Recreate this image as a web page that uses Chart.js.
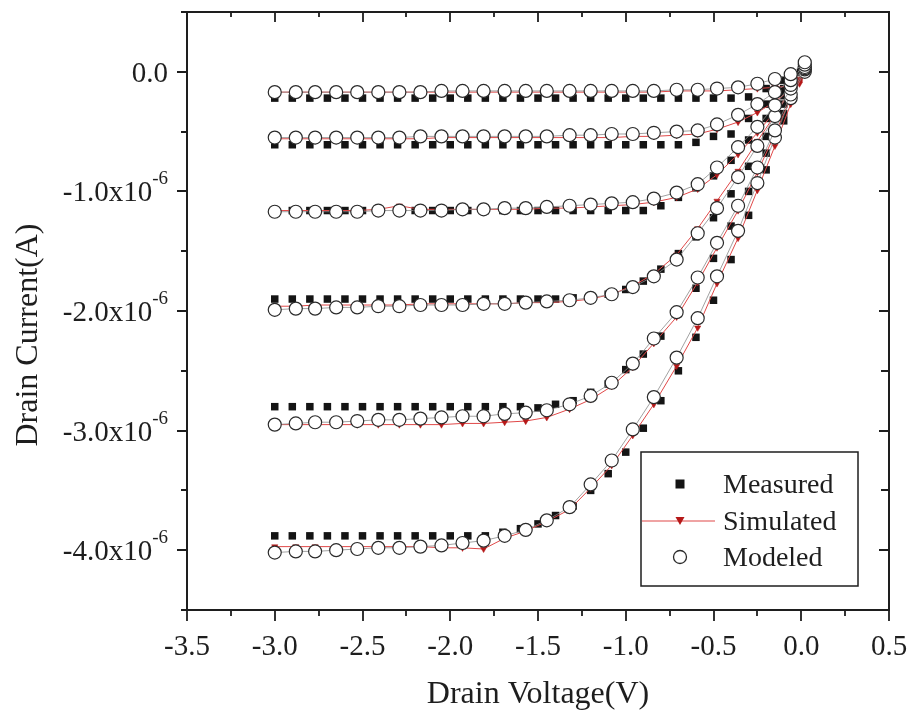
<!DOCTYPE html>
<html>
<head>
<meta charset="utf-8">
<script src="https://cdn.jsdelivr.net/npm/chart.js@4.4.1/dist/chart.umd.min.js"></script>
<style>
html,body{margin:0;padding:0;background:#fff;}
#wrap{width:909px;height:718px;position:relative;}
</style>
</head>
<body>
<div id="wrap"><canvas id="c" width="909" height="718"></canvas></div>
<script>
// ---------- DATA (current in units of 1e-6 A) ----------
const vMeasured = [-3.0,-2.9,-2.8,-2.7,-2.6,-2.5,-2.4,-2.3,-2.2,-2.1,-2.0,-1.9,-1.8,-1.7,-1.6,-1.5,-1.4,-1.3,-1.2,-1.1,-1.0,-0.9,-0.8,-0.7,-0.6,-0.5,-0.4,-0.3,-0.2,-0.1,0.0];
const vModeled  = [-3.00,-2.88,-2.77,-2.65,-2.53,-2.41,-2.29,-2.17,-2.05,-1.93,-1.81,-1.69,-1.57,-1.45,-1.32,-1.20,-1.08,-0.96,-0.84,-0.71,-0.59,-0.48,-0.36,-0.25,-0.15,-0.06,0.02];
const vSimulated = [-3.00,-2.88,-2.77,-2.65,-2.53,-2.41,-2.29,-2.17,-2.05,-1.93,-1.81,-1.69,-1.57,-1.45,-1.32,-1.20,-1.08,-0.96,-0.84,-0.71,-0.59,-0.48,-0.36,-0.25,-0.15,-0.06,-0.01];

const measured1 = [-0.22,-0.22,-0.22,-0.22,-0.22,-0.22,-0.22,-0.22,-0.22,-0.22,-0.22,-0.22,-0.22,-0.22,-0.22,-0.22,-0.22,-0.22,-0.22,-0.22,-0.22,-0.22,-0.22,-0.22,-0.22,-0.22,-0.22,-0.21,-0.14,-0.07,0.0];
const measured2 = [-0.61,-0.61,-0.61,-0.61,-0.61,-0.61,-0.61,-0.61,-0.61,-0.61,-0.61,-0.61,-0.61,-0.61,-0.61,-0.61,-0.61,-0.61,-0.61,-0.61,-0.61,-0.61,-0.61,-0.61,-0.59,-0.54,-0.52,-0.39,-0.27,-0.14,0.0];
const measured3 = [-1.16,-1.16,-1.16,-1.16,-1.16,-1.16,-1.16,-1.16,-1.16,-1.16,-1.16,-1.16,-1.16,-1.16,-1.16,-1.16,-1.16,-1.16,-1.16,-1.16,-1.16,-1.16,-1.12,-1.05,-0.97,-0.87,-0.74,-0.57,-0.39,-0.20,0.0];
const measured4 = [-1.90,-1.90,-1.90,-1.90,-1.90,-1.90,-1.90,-1.90,-1.90,-1.90,-1.90,-1.90,-1.90,-1.90,-1.90,-1.90,-1.90,-1.89,-1.88,-1.86,-1.82,-1.75,-1.65,-1.52,-1.38,-1.22,-1.02,-0.79,-0.54,-0.27,0.0];
const measured5 = [-2.80,-2.80,-2.80,-2.80,-2.80,-2.80,-2.80,-2.80,-2.80,-2.80,-2.80,-2.80,-2.80,-2.80,-2.80,-2.81,-2.78,-2.75,-2.68,-2.61,-2.49,-2.36,-2.21,-2.02,-1.81,-1.56,-1.29,-1.00,-0.68,-0.35,0.0];
const measured6 = [-3.88,-3.88,-3.88,-3.88,-3.88,-3.88,-3.88,-3.88,-3.88,-3.88,-3.88,-3.88,-3.88,-3.85,-3.82,-3.78,-3.71,-3.63,-3.50,-3.36,-3.18,-2.98,-2.75,-2.50,-2.22,-1.91,-1.57,-1.20,-0.82,-0.41,0.0];

const modeled1 = [-0.17,-0.17,-0.17,-0.17,-0.17,-0.17,-0.17,-0.17,-0.16,-0.16,-0.16,-0.16,-0.16,-0.16,-0.16,-0.16,-0.16,-0.16,-0.16,-0.15,-0.15,-0.14,-0.13,-0.10,-0.06,-0.02,0.08];
const modeled2 = [-0.55,-0.55,-0.55,-0.55,-0.55,-0.55,-0.55,-0.54,-0.54,-0.54,-0.54,-0.54,-0.54,-0.54,-0.53,-0.53,-0.52,-0.52,-0.51,-0.50,-0.49,-0.44,-0.36,-0.27,-0.17,-0.07,0.06];
const modeled3 = [-1.17,-1.17,-1.17,-1.17,-1.17,-1.16,-1.16,-1.16,-1.16,-1.15,-1.15,-1.14,-1.14,-1.13,-1.12,-1.11,-1.10,-1.09,-1.06,-1.01,-0.94,-0.80,-0.63,-0.46,-0.28,-0.11,0.04];
const modeled4 = [-1.99,-1.98,-1.98,-1.97,-1.97,-1.96,-1.96,-1.95,-1.95,-1.95,-1.94,-1.94,-1.93,-1.92,-1.91,-1.89,-1.86,-1.80,-1.71,-1.57,-1.35,-1.14,-0.88,-0.62,-0.37,-0.14,0.03];
const modeled5 = [-2.95,-2.94,-2.93,-2.93,-2.92,-2.91,-2.91,-2.90,-2.89,-2.88,-2.88,-2.86,-2.85,-2.83,-2.78,-2.71,-2.60,-2.44,-2.23,-2.01,-1.72,-1.43,-1.12,-0.80,-0.49,-0.19,0.02];
const modeled6 = [-4.02,-4.01,-4.01,-4.00,-3.99,-3.98,-3.98,-3.97,-3.96,-3.94,-3.92,-3.88,-3.83,-3.75,-3.64,-3.45,-3.25,-2.99,-2.72,-2.39,-2.06,-1.71,-1.33,-0.93,-0.55,-0.22,0.0];

const simulated1 = [-0.17,-0.17,-0.17,-0.17,-0.17,-0.17,-0.17,-0.17,-0.17,-0.17,-0.17,-0.17,-0.17,-0.17,-0.17,-0.17,-0.17,-0.17,-0.17,-0.16,-0.16,-0.16,-0.15,-0.14,-0.13,-0.12,-0.10];
const simulated2 = [-0.56,-0.56,-0.56,-0.56,-0.56,-0.56,-0.56,-0.56,-0.55,-0.55,-0.55,-0.55,-0.55,-0.55,-0.55,-0.55,-0.55,-0.54,-0.54,-0.53,-0.52,-0.48,-0.42,-0.34,-0.25,-0.15,-0.09];
const simulated3 = [-1.16,-1.16,-1.16,-1.16,-1.16,-1.15,-1.12,-1.15,-1.15,-1.15,-1.15,-1.15,-1.15,-1.14,-1.14,-1.13,-1.12,-1.11,-1.09,-1.05,-0.98,-0.86,-0.69,-0.51,-0.33,-0.17,-0.08];
const simulated4 = [-1.96,-1.96,-1.95,-1.95,-1.95,-1.95,-1.95,-1.94,-1.94,-1.94,-1.94,-1.94,-1.93,-1.93,-1.92,-1.90,-1.86,-1.79,-1.69,-1.53,-1.31,-1.08,-0.83,-0.58,-0.36,-0.16,-0.06];
const simulated5 = [-2.95,-2.95,-2.95,-2.95,-2.95,-2.95,-2.95,-2.95,-2.95,-2.94,-2.94,-2.93,-2.92,-2.89,-2.82,-2.74,-2.63,-2.47,-2.27,-2.05,-1.76,-1.47,-1.16,-0.84,-0.52,-0.22,-0.06];
const simulated6 = [-3.97,-3.97,-3.97,-3.97,-3.97,-3.97,-3.97,-3.97,-3.98,-3.98,-3.99,-3.90,-3.84,-3.76,-3.66,-3.48,-3.29,-3.04,-2.78,-2.46,-2.14,-1.77,-1.39,-0.99,-0.62,-0.27,-0.07];

const xTickValues = [-3.5,-3.0,-2.5,-2.0,-1.5,-1.0,-0.5,0.0,0.5];
const xTickLabels = ['-3.5','-3.0','-2.5','-2.0','-1.5','-1.0','-0.5','0.0','0.5'];
const xMinorValues = [-3.25,-2.75,-2.25,-1.75,-1.25,-0.75,-0.25,0.25];
const yTickValues = [0,-1,-2,-3,-4];
const yTickMantissas = ['0.0','-1.0x10','-2.0x10','-3.0x10','-4.0x10'];
const yTickExponents = ['','-6','-6','-6','-6'];
const yMinorValues = [0.5,-0.5,-1.5,-2.5,-3.5,-4.5];
const xTitle = 'Drain Voltage(V)';
const yTitle = 'Drain Current(A)';
const legendNames = ['Measured','Simulated','Modeled'];

// ---------- BUILD ----------
const measuredSeries = [measured1,measured2,measured3,measured4,measured5,measured6];
const modeledSeries = [modeled1,modeled2,modeled3,modeled4,modeled5,modeled6];
const simulatedSeries = [simulated1,simulated2,simulated3,simulated4,simulated5,simulated6];
const pts = (xs, ys) => xs.map((x,i)=>({x:x, y:ys[i]}));

const SERIF = "'Liberation Serif','Times New Roman',serif";
const datasets = [];
measuredSeries.forEach(s => datasets.push({
  data: pts(vMeasured, s), showLine:false, order:3,
  pointStyle:'rect', pointRadius:5.3, backgroundColor:'#141414', borderColor:'#141414', borderWidth:0
}));
simulatedSeries.forEach(s => datasets.push({
  data: pts(vSimulated, s), showLine:true, order:2,
  borderColor:'#e04848', borderWidth:1,
  pointStyle:'triangle', rotation:180, pointRadius:3.6,
  pointBackgroundColor:'#b51818', pointBorderColor:'#b51818', pointBorderWidth:0.5
}));
modeledSeries.forEach(s => datasets.push({
  data: pts(vModeled, s), showLine:true, order:1,
  borderColor:'#8a8a8a', borderWidth:0.8,
  pointStyle:'circle', pointRadius:6.5,
  pointBackgroundColor:'#ffffff', pointBorderColor:'#2a2a2a', pointBorderWidth:1.2
}));

const framePlugin = {
  id:'frame',
  afterDatasetsDraw(chart){
    const ctx = chart.ctx, a = chart.chartArea;
    const xs = chart.scales.x, ys = chart.scales.y;
    ctx.save();
    ctx.strokeStyle = '#1e1e1e';
    ctx.fillStyle = '#1e1e1e';
    // frame
    ctx.lineWidth = 2;
    ctx.strokeRect(a.left, a.top, a.right - a.left, a.bottom - a.top);
    // ticks
    ctx.lineWidth = 1.8;
    ctx.beginPath();
    xTickValues.forEach(v => {
      const p = Math.round(xs.getPixelForValue(v));
      ctx.moveTo(p, a.bottom); ctx.lineTo(p, a.bottom + 11);
      ctx.moveTo(p, a.top); ctx.lineTo(p, a.top + 10);
    });
    xMinorValues.forEach(v => {
      const p = Math.round(xs.getPixelForValue(v));
      ctx.moveTo(p, a.bottom); ctx.lineTo(p, a.bottom + 6);
      ctx.moveTo(p, a.top); ctx.lineTo(p, a.top + 5);
    });
    yTickValues.forEach(v => {
      const p = Math.round(ys.getPixelForValue(v));
      ctx.moveTo(a.left - 10, p); ctx.lineTo(a.left, p);
      ctx.moveTo(a.right - 10, p); ctx.lineTo(a.right, p);
    });
    yMinorValues.forEach(v => {
      const p = Math.round(ys.getPixelForValue(v));
      ctx.moveTo(a.left - 6, p); ctx.lineTo(a.left, p);
      ctx.moveTo(a.right - 8, p); ctx.lineTo(a.right, p);
    });
    ctx.stroke();

    // x tick labels
    ctx.font = '29px ' + SERIF;
    ctx.textAlign = 'center';
    ctx.textBaseline = 'alphabetic';
    xTickValues.forEach((v,i) => {
      ctx.fillText(xTickLabels[i], xs.getPixelForValue(v), a.bottom + 45);
    });
    // y tick labels with superscript
    yTickValues.forEach((v,i) => {
      const p = ys.getPixelForValue(v);
      const rightEdge = a.left - 19;
      ctx.font = '19px ' + SERIF;
      const wSup = yTickExponents[i] ? ctx.measureText(yTickExponents[i]).width : 0;
      ctx.font = '29px ' + SERIF;
      const wMain = ctx.measureText(yTickMantissas[i]).width;
      ctx.textAlign = 'left';
      const base = p + 10;
      ctx.fillText(yTickMantissas[i], rightEdge - wSup - wMain, base);
      if (yTickExponents[i]) {
        ctx.font = '19px ' + SERIF;
        ctx.fillText(yTickExponents[i], rightEdge - wSup, base - 17);
      }
    });
    // axis titles
    ctx.font = '32px ' + SERIF;
    ctx.textAlign = 'center';
    ctx.fillText(xTitle, (a.left + a.right) / 2, 703);
    ctx.save();
    ctx.translate(37, 335);
    ctx.rotate(-Math.PI / 2);
    ctx.fillText(yTitle, 0, 0);
    ctx.restore();

    // legend
    const lx = 641, ly = 452, lw = 217, lh = 134;
    ctx.fillStyle = '#ffffff';
    ctx.fillRect(lx, ly, lw, lh);
    ctx.strokeStyle = '#1e1e1e';
    ctx.lineWidth = 1.5;
    ctx.strokeRect(lx, ly, lw, lh);
    const symX = 680;
    // measured square
    ctx.fillStyle = '#141414';
    ctx.fillRect(symX - 4.5, 484 - 4.5, 9, 9);
    // simulated line + triangle
    ctx.strokeStyle = '#e04848';
    ctx.lineWidth = 1.2;
    ctx.beginPath(); ctx.moveTo(lx + 1, 521); ctx.lineTo(715, 521); ctx.stroke();
    ctx.fillStyle = '#b51818';
    ctx.beginPath();
    ctx.moveTo(symX - 4.5, 517); ctx.lineTo(symX + 4.5, 517); ctx.lineTo(symX, 525); ctx.closePath(); ctx.fill();
    // modeled circle
    ctx.strokeStyle = '#2a2a2a';
    ctx.lineWidth = 1.3;
    ctx.beginPath(); ctx.arc(symX, 557, 6.5, 0, Math.PI * 2); ctx.stroke();
    // legend texts
    ctx.fillStyle = '#1e1e1e';
    ctx.font = '28px ' + SERIF;
    ctx.textAlign = 'left';
    ctx.fillText(legendNames[0], 723, 493);
    ctx.fillText(legendNames[1], 723, 530);
    ctx.fillText(legendNames[2], 723, 566);
    ctx.restore();
  }
};

new Chart(document.getElementById('c'), {
  type:'scatter',
  data:{datasets},
  options:{
    responsive:false,
    animation:false,
    devicePixelRatio:1,
    layout:{padding:{left:187, top:12, right:20, bottom:108}},
    scales:{
      x:{type:'linear', min:-3.5, max:0.5, display:false},
      y:{type:'linear', min:-4.5, max:0.5, display:false}
    },
    plugins:{legend:{display:false}, tooltip:{enabled:false}}
  },
  plugins:[framePlugin]
});
</script>
</body>
</html>
